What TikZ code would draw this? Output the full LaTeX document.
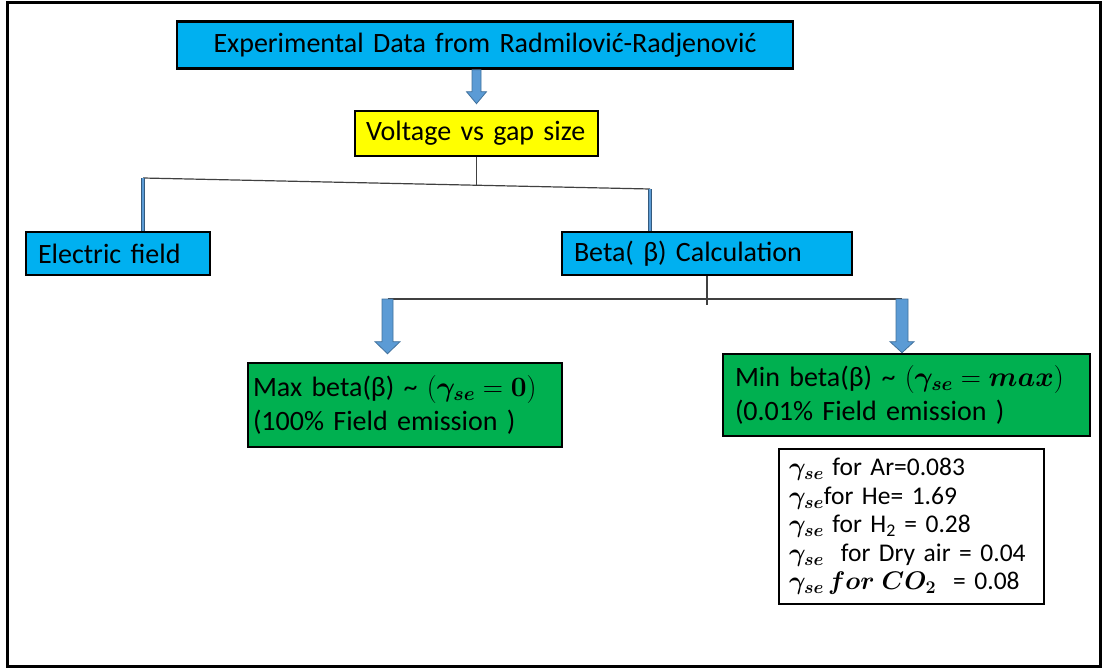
\RequirePackage{fix-cm}
\documentclass[tikz,border=0pt]{standalone}
\usepackage{amsmath,bm}
\usepackage[no-math]{fontspec}
\setmainfont{Carlito}
\usetikzlibrary{calc}

\definecolor{boxcyan}{HTML}{00B0F0}
\definecolor{boxyellow}{HTML}{FFFF00}
\definecolor{boxgreen}{HTML}{00B050}
\definecolor{arrowfill}{HTML}{5B9BD5}
\definecolor{arrowedge}{HTML}{41719C}
\definecolor{linkgray}{HTML}{404040}

% block arrow: start, tip, half shaft width, half head width, head length
\newcommand\blockarrow[5]{%
  \filldraw[fill=arrowfill, draw=arrowedge, line width=0.8pt, line join=miter]
    ($(#1)+(-#3,0)$) -- ($(#2)+(-#3,-#5)$) -- ($(#2)+(-#4,-#5)$) -- (#2)
    -- ($(#2)+(#4,-#5)$) -- ($(#2)+(#3,-#5)$) -- ($(#1)+(#3,0)$) -- cycle;}

\tikzset{
  box/.style={draw=black, line width=2.6pt, inner ysep=0pt, inner xsep=12pt,
    align=left, font=\fontsize{28}{34}\selectfont},
  link/.style={draw=linkgray, line width=1.2pt},
  stem/.style={draw=arrowedge!80!black, line width=0.8pt, double=arrowfill, double distance=1.8pt},
}

\begin{document}
\begin{tikzpicture}[x=1pt,y=-1pt]
  \useasboundingbox (0,0) rectangle (1104,669);
  \draw[line width=3pt] (7,3) rectangle (1100,666);

  % boxes
  \node[box, fill=boxcyan, align=center, minimum width=616, minimum height=47, text width=592]
    (top) at (485,45) {Experimental Data from Radmilović-Radjenović};
  \node[box, fill=boxyellow, inner xsep=11pt, minimum width=243, minimum height=45, text width=221]
    (volt) at (476.5,133.5) {Voltage vs gap size};
  \node[box, fill=boxcyan, minimum width=184, minimum height=43, text width=160]
    (elec) at (118,253.5) {Electric field};
  \node[box, fill=boxcyan, minimum width=290, minimum height=43, text width=266]
    (beta) at (707,253.5) {Beta( β) Calculation};
  \node[box, fill=boxgreen, inner xsep=5pt, minimum width=314, minimum height=84, text width=304]
    (maxb) at (405,405)
    {Max beta(β) \textasciitilde{} $(\bm{\gamma_{se}} = \mathbf{0})$\\(100\% Field emission )};
  \node[box, fill=boxgreen, minimum width=367, minimum height=82, text width=343]
    (minb) at (906.5,395)
    {Min beta(β) \textasciitilde{} $(\bm{\gamma_{se}} = \bm{max})$\\(0.01\% Field emission )};
  \node[box, fill=white, minimum width=265, minimum height=155, text width=245,
        inner xsep=10pt, font=\fontsize{25.5}{28.5}\selectfont]
    (gas) at (911.5,526.5)
    {$\bm{\gamma_{se}}$ for Ar=0.083\\
     $\bm{\gamma_{se}}$for He= 1.69\\
     $\bm{\gamma_{se}}$ for H\textsubscript{2} = 0.28\\
     $\bm{\gamma_{se}}$ \ for Dry air = 0.04\\
     $\bm{\gamma_{se}\,for\;CO_2}$ \ = 0.08};

  % top arrow
  \coordinate (a1s) at (top.south -| volt.north);
  \coordinate (a1e) at ([yshift=6pt]volt.north);
  \blockarrow{a1s}{a1e}{4.5}{10}{12}

  % split towards the field and beta boxes
  \coordinate (j0) at ($(volt.south)+(0,28)$);
  \coordinate (jL) at (143,178);
  \coordinate (jR) at (650,189);
  \draw[link] (volt.south) -- (j0);
  \draw[link] (jL) -- (jR);
  \draw[stem] (jL) -- (jL |- elec.north);
  \draw[stem] (jR) -- (jR |- beta.north);

  % split towards the two beta limits
  \coordinate (busL) at (387.5,299);
  \coordinate (busR) at (902,299);
  \coordinate (btail) at ($(beta.south)+(0,29)$);
  \draw[link] (beta.south) -- (btail);
  \draw[link] (busL) -- (busR);
  \coordinate (aLtip) at ([yshift=8pt]maxb.north -| busL);
  \coordinate (aRtip) at (minb.north -| busR);
  \blockarrow{busL}{aLtip}{5.5}{12.5}{12}
  \blockarrow{busR}{aRtip}{6}{12}{11}
\end{tikzpicture}
\end{document}
